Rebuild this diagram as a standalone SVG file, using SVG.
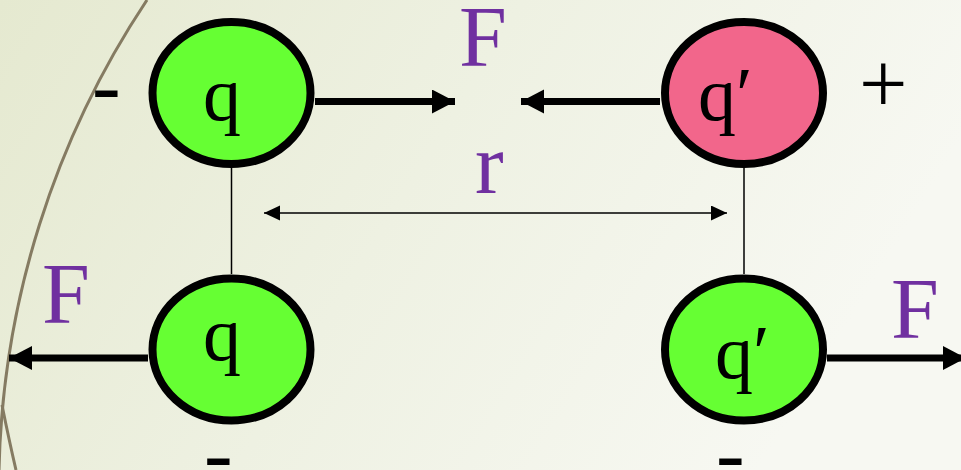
<svg xmlns="http://www.w3.org/2000/svg" width="961" height="470" viewBox="0 0 961 470">
<style>
.node{stroke:#000;stroke-width:8}
.g{fill:#66FF33}
.p{fill:#F2668B}
.qt{font-family:"Liberation Serif","Times New Roman",serif;font-size:76px;fill:#000}
.lab{font-family:"Liberation Serif","Times New Roman",serif;font-size:86px;fill:#7030A0}
.sign{font-family:"Liberation Serif","Times New Roman",serif;font-size:86px;fill:#000}
.thick{stroke:#000;stroke-width:7;fill:none}
.thin{stroke:#000;stroke-width:1.5;fill:none}
.arc{stroke:#857B62;stroke-width:3;fill:none}
</style>
<defs>
<linearGradient id="bg" x1="0" y1="0" x2="1" y2="0.3">
<stop offset="0" stop-color="#E5E9D0"/>
<stop offset="0.5" stop-color="#EEF1E2"/>
<stop offset="1" stop-color="#F7F8F2"/>
</linearGradient>
<marker id="big" markerUnits="userSpaceOnUse" markerWidth="24" markerHeight="26" refX="23" refY="12" orient="auto">
<path d="M0,0 L23,12 L0,24 Z" fill="#000"/>
</marker>
<marker id="sm" markerUnits="userSpaceOnUse" markerWidth="17" markerHeight="16" refX="16" refY="7.5" orient="auto-start-reverse">
<path d="M0,0 L16,7.5 L0,15 Z" fill="#000"/>
</marker>
</defs>
<rect width="961" height="470" fill="url(#bg)"/>
<path class="arc" d="M147,0 A882,882 0 0 0 -1,470"/>
<path class="arc" d="M2,405 Q9,440 16,470"/>

<g id="connectors">
<line class="thin" x1="231.5" y1="168" x2="231.5" y2="274"/>
<line class="thin" x1="744" y1="168" x2="744" y2="274"/>
<line class="thin" x1="264" y1="213" x2="727" y2="213" marker-start="url(#sm)" marker-end="url(#sm)"/>
<line class="thick" x1="315" y1="101.5" x2="455" y2="101.5" marker-end="url(#big)"/>
<line class="thick" x1="660" y1="101.5" x2="521" y2="101.5" marker-end="url(#big)"/>
<line class="thick" x1="148" y1="358" x2="9" y2="358" marker-end="url(#big)"/>
<line class="thick" x1="827" y1="358" x2="966" y2="358" marker-end="url(#big)"/>
</g>

<g id="node-q-top">
<ellipse class="node g" cx="231.5" cy="93" rx="79" ry="71"/>
<text class="qt" x="203" y="120">q</text>
</g>
<g id="node-q-bottom">
<ellipse class="node g" cx="231.5" cy="349.5" rx="79" ry="71"/>
<text class="qt" x="203" y="360">q</text>
</g>
<g id="node-qp-top">
<ellipse class="node p" cx="744" cy="93" rx="79" ry="71"/>
<text class="qt" x="698" y="120">q′</text>
</g>
<g id="node-qp-bottom">
<ellipse class="node g" cx="744" cy="349.5" rx="79" ry="71"/>
<text class="qt" x="715" y="378">q′</text>
</g>

<g id="labels">
<text class="lab" x="459" y="66">F</text>
<text class="lab" x="475" y="193">r</text>
<text class="lab" x="42" y="323">F</text>
<text class="lab" x="891" y="338">F</text>
<text class="sign" x="92" y="114">-</text>
<text class="sign" x="204" y="482">-</text>
<text class="sign" x="716" y="482">-</text>
<text class="sign" x="859" y="113">+</text>
</g>
</svg>
